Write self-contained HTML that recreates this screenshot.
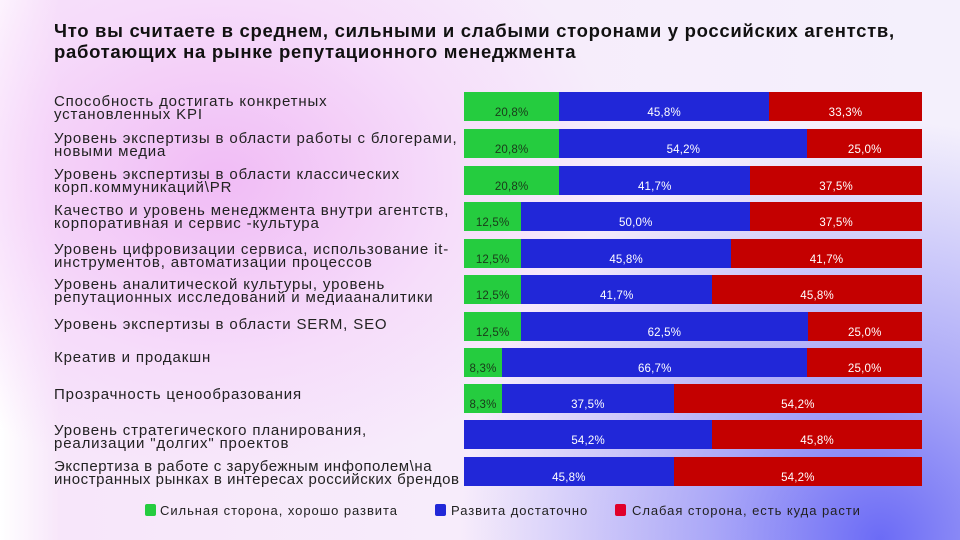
<!DOCTYPE html>
<html><head><meta charset="utf-8"><style>
body{margin:0}
#c{position:relative;width:960px;height:540px;overflow:hidden;font-family:"Liberation Sans","DejaVu Sans",sans-serif;
background:
radial-gradient(ellipse 420px 420px at 880px 540px,rgba(100,100,245,0.95),rgba(120,120,245,0.6) 40%,rgba(160,160,250,0) 100%),
radial-gradient(ellipse 400px 300px at 220px 180px,rgba(240,185,245,0.95),rgba(245,210,250,0.55) 60%,rgba(255,255,255,0) 100%),
linear-gradient(90deg,#fff 0px,#f7e6fa 60px,#f7ecfb 450px,#f4f0fc 960px);}
.t{position:absolute;left:54px;top:20px;font-size:18.5px;font-weight:bold;line-height:21px;color:#111;letter-spacing:0.7px;white-space:nowrap}
.l{position:absolute;left:54px;font-size:15px;line-height:13px;color:#222;white-space:nowrap;letter-spacing:0.85px}
.b{position:absolute;left:464px;width:458px;height:29px;display:flex}
.b div{height:100%;position:relative;font-size:11.5px;color:#fff;text-align:center;letter-spacing:0.2px}
.b div span{position:absolute;left:0;right:0;bottom:2px}
.g{background:#25cc3f}.g span{color:#1a3a1a!important}
.u{background:#2127d8}.r{background:#c40000}
.lg{position:absolute;top:503px;font-size:13px;color:#222;letter-spacing:0.95px}
.sq{position:absolute;top:504px;width:11px;height:12px;border-radius:2px}
</style></head><body><div id="c">
<div class="t">Что вы считаете в среднем, сильными и слабыми сторонами у российских агентств,<br>работающих на рынке репутационного менеджмента</div>

<div class="l" style="top:95px">Способность достигать конкретных<br>установленных KPI</div>
<div class="l" style="top:132px">Уровень экспертизы в области работы с блогерами,<br>новыми медиа</div>
<div class="l" style="top:168px">Уровень экспертизы в области классических<br>корп.коммуникаций\PR</div>
<div class="l" style="top:204px">Качество и уровень менеджмента внутри агентств,<br>корпоративная и сервис -культура</div>
<div class="l" style="top:243px">Уровень цифровизации сервиса, использование it-<br>инструментов, автоматизации процессов</div>
<div class="l" style="top:278px">Уровень аналитической культуры, уровень<br>репутационных исследований и медиааналитики</div>
<div class="l" style="top:318px">Уровень экспертизы в области SERM, SEO</div>
<div class="l" style="top:351px">Креатив и продакшн</div>
<div class="l" style="top:388px">Прозрачность ценообразования</div>
<div class="l" style="top:424px">Уровень стратегического планирования,<br>реализации "долгих" проектов</div>
<div class="l" style="top:460px;letter-spacing:0.55px">Экспертиза в работе с зарубежным инфополем\на<br>иностранных рынках в интересах российских брендов</div>

<div class="b" style="top:92px"><div class="g" style="width:20.8%"><span>20,8%</span></div><div class="u" style="width:45.8%"><span>45,8%</span></div><div class="r" style="width:33.4%"><span>33,3%</span></div></div>
<div class="b" style="top:129px"><div class="g" style="width:20.8%"><span>20,8%</span></div><div class="u" style="width:54.2%"><span>54,2%</span></div><div class="r" style="width:25%"><span>25,0%</span></div></div>
<div class="b" style="top:166px"><div class="g" style="width:20.8%"><span>20,8%</span></div><div class="u" style="width:41.7%"><span>41,7%</span></div><div class="r" style="width:37.5%"><span>37,5%</span></div></div>
<div class="b" style="top:202px"><div class="g" style="width:12.5%"><span>12,5%</span></div><div class="u" style="width:50%"><span>50,0%</span></div><div class="r" style="width:37.5%"><span>37,5%</span></div></div>
<div class="b" style="top:239px"><div class="g" style="width:12.5%"><span>12,5%</span></div><div class="u" style="width:45.8%"><span>45,8%</span></div><div class="r" style="width:41.7%"><span>41,7%</span></div></div>
<div class="b" style="top:275px"><div class="g" style="width:12.5%"><span>12,5%</span></div><div class="u" style="width:41.7%"><span>41,7%</span></div><div class="r" style="width:45.8%"><span>45,8%</span></div></div>
<div class="b" style="top:312px"><div class="g" style="width:12.5%"><span>12,5%</span></div><div class="u" style="width:62.5%"><span>62,5%</span></div><div class="r" style="width:25%"><span>25,0%</span></div></div>
<div class="b" style="top:348px"><div class="g" style="width:8.3%"><span>8,3%</span></div><div class="u" style="width:66.7%"><span>66,7%</span></div><div class="r" style="width:25%"><span>25,0%</span></div></div>
<div class="b" style="top:384px"><div class="g" style="width:8.3%"><span>8,3%</span></div><div class="u" style="width:37.5%"><span>37,5%</span></div><div class="r" style="width:54.2%"><span>54,2%</span></div></div>
<div class="b" style="top:420px"><div class="u" style="width:54.2%"><span>54,2%</span></div><div class="r" style="width:45.8%"><span>45,8%</span></div></div>
<div class="b" style="top:457px"><div class="u" style="width:45.8%"><span>45,8%</span></div><div class="r" style="width:54.2%"><span>54,2%</span></div></div>

<div class="sq" style="left:145px;background:#25cc3f"></div><div class="lg" style="left:160px">Сильная сторона, хорошо развита</div>
<div class="sq" style="left:435px;background:#2127d8"></div><div class="lg" style="left:451px">Развита достаточно</div>
<div class="sq" style="left:615px;background:#e0002a"></div><div class="lg" style="left:632px">Слабая сторона, есть куда расти</div>
</div></body></html>
